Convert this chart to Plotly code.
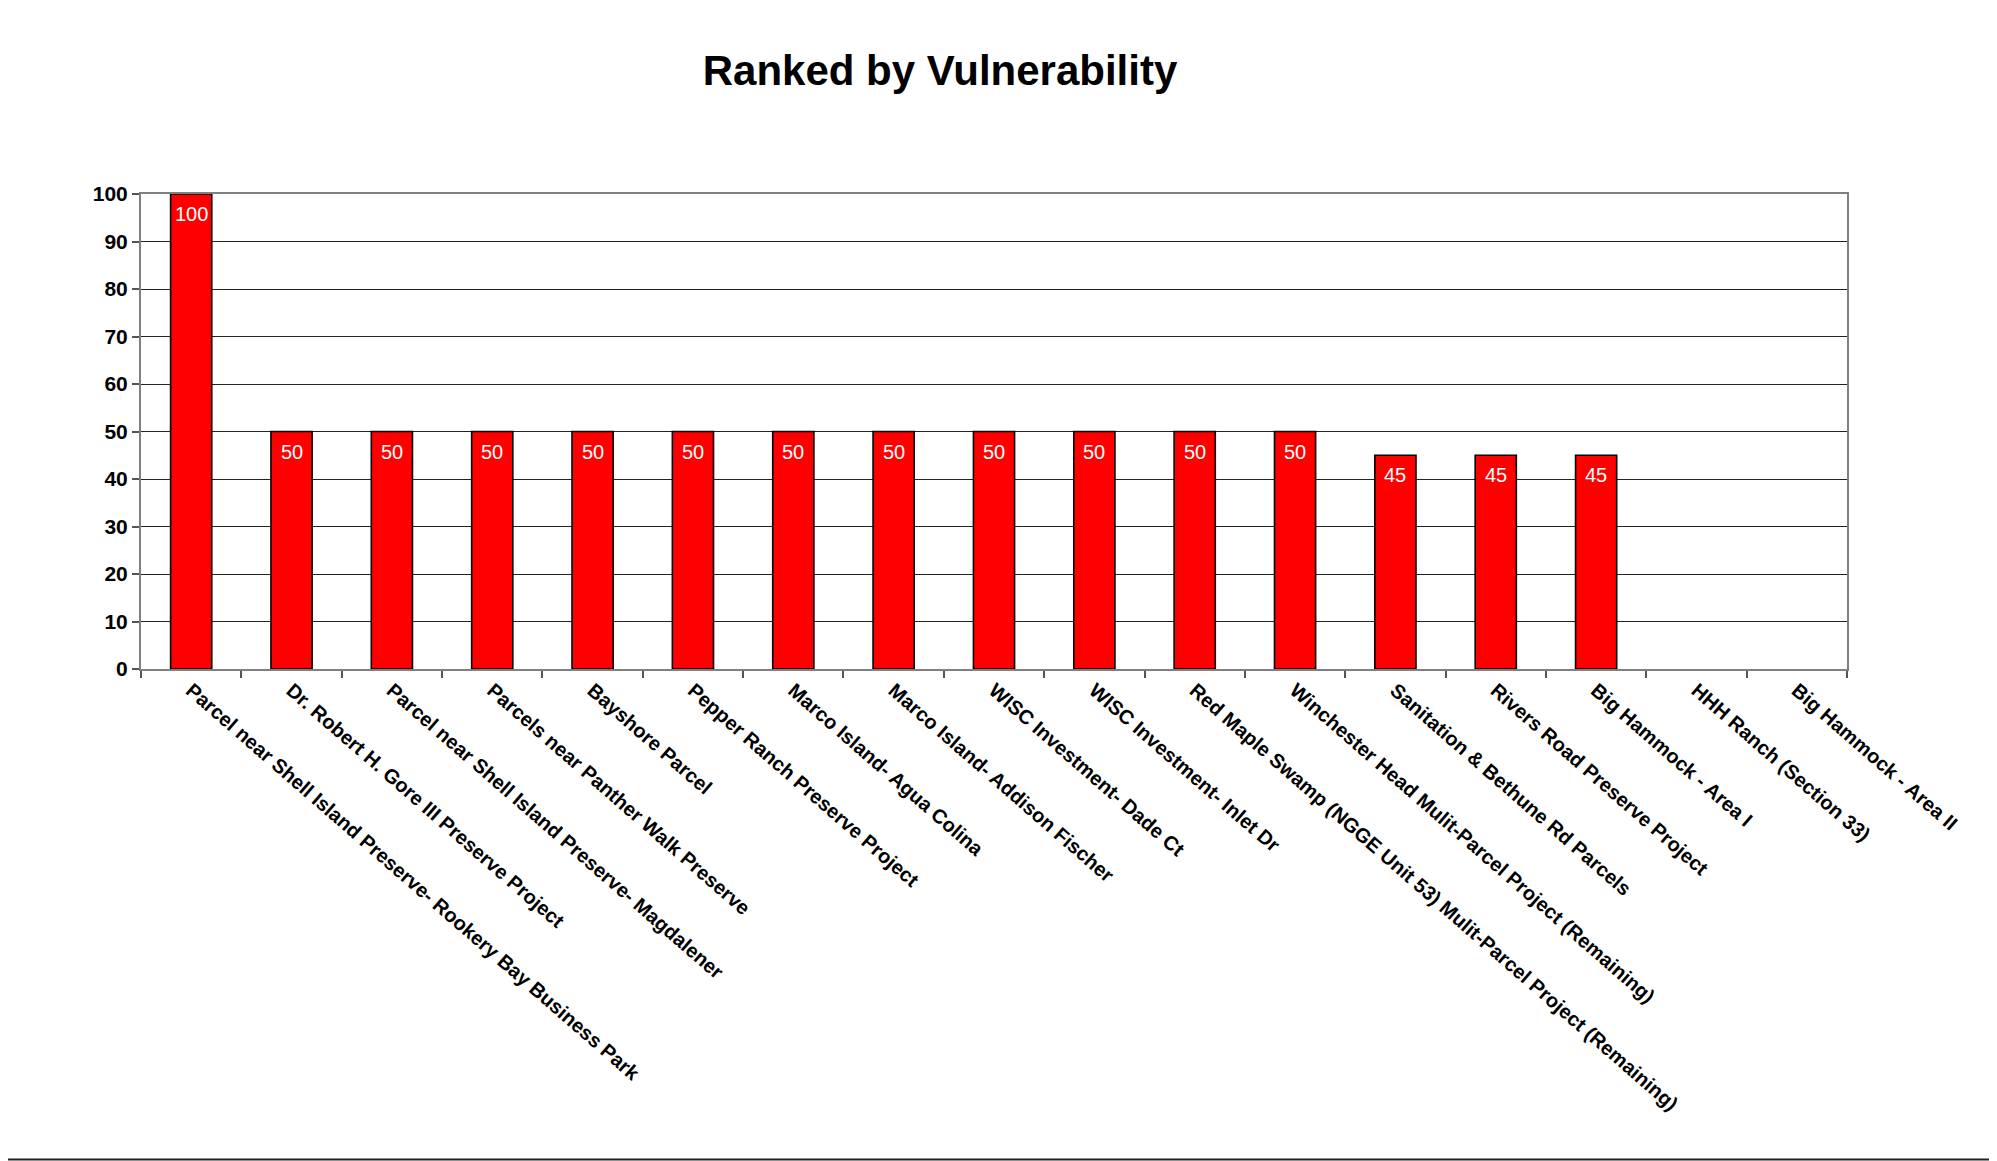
import plotly.graph_objects as go

categories = [
    "Parcel near Shell Island Preserve- Rookery Bay Business Park",
    "Dr. Robert H. Gore III Preserve Project",
    "Parcel near Shell Island Preserve- Magdalener",
    "Parcels near Panther Walk Preserve",
    "Bayshore Parcel",
    "Pepper Ranch Preserve Project",
    "Marco Island- Agua Colina",
    "Marco Island- Addison Fischer",
    "WISC Investment- Dade Ct",
    "WISC Investment- Inlet Dr",
    "Red Maple Swamp (NGGE Unit 53) Mulit-Parcel Project (Remaining)",
    "Winchester Head Mulit-Parcel Project (Remaining)",
    "Sanitation & Bethune Rd Parcels",
    "Rivers Road Preserve Project",
    "Big Hammock - Area I",
    "HHH Ranch (Section 33)",
    "Big Hammock - Area II",
]
values = [100, 50, 50, 50, 50, 50, 50, 50, 50, 50, 50, 50, 45, 45, 45, None, None]
y_ticks = [0, 10, 20, 30, 40, 50, 60, 70, 80, 90, 100]
title_text = "Ranked by Vulnerability"

# page has an 8px body margin; figure sized so it ends at the window edge
W, H = 1989, 1153
L, R, T, B = 133, 150, 186, 492
FONT = "Liberation Sans, Arial, sans-serif"

fig = go.Figure()
fig.add_trace(go.Bar(
    x=categories,
    y=values,
    marker=dict(color="#FF0000", line=dict(color="#000000", width=1.6)),
    hoverinfo="x+y",
))

annotations = []
for c, v in zip(categories, values):
    if v is None:
        continue
    annotations.append(dict(
        x=c, y=v, xref="x", yref="y", text=str(v), showarrow=False,
        yanchor="middle", yshift=-20,
        font=dict(family=FONT, size=20, color="#FFFFFF"),
    ))

pw = W - L - R
ph = H - T - B
shapes = [
    dict(type="line", xref="paper", yref="paper",
         x0=-L / pw, x1=(W - L) / pw,
         y0=-(B - 1.5) / ph, y1=-(B - 1.5) / ph,
         line=dict(color="#222222", width=2)),
    dict(type="line", xref="paper", yref="paper",
         x0=(W - 1 - L) / pw, x1=(W - 1 - L) / pw,
         y0=-B / ph, y1=(ph + T) / ph,
         line=dict(color="#E6E6E6", width=1)),
]

fig.update_layout(
    width=W, height=H,
    margin=dict(l=L, r=R, t=T, b=B, autoexpand=False),
    paper_bgcolor="#FFFFFF",
    plot_bgcolor="#FFFFFF",
    showlegend=False,
    bargap=0.59,
    title=dict(
        text=title_text,
        x=932 / W, xref="container", xanchor="center",
        y=1 - 62 / H, yref="container", yanchor="middle",
        font=dict(family=FONT, size=42, color="#000000", weight="bold"),
    ),
    annotations=annotations,
    shapes=shapes,
)

fig.update_xaxes(
    type="category",
    categoryorder="array", categoryarray=categories,
    automargin=False,
    showgrid=False,
    showline=True, linecolor="#808080", linewidth=2, mirror=True,
    ticks="outside", tickson="boundaries", ticklen=7, tickcolor="#555555", tickwidth=1.5,
    tickangle=41,
    tickfont=dict(family=FONT, size=20, color="#000000", weight="bold"),
)
fig.update_yaxes(
    range=[0, 100],
    tickvals=y_ticks,
    automargin=False,
    showgrid=True, gridcolor="#222222", gridwidth=1,
    zeroline=False,
    showline=True, linecolor="#808080", linewidth=2, mirror=True,
    ticks="outside", ticklen=7, tickcolor="#555555", tickwidth=1.5,
    tickfont=dict(family=FONT, size=21, color="#000000", weight="bold"),
)

fig.write_html("out.html")
